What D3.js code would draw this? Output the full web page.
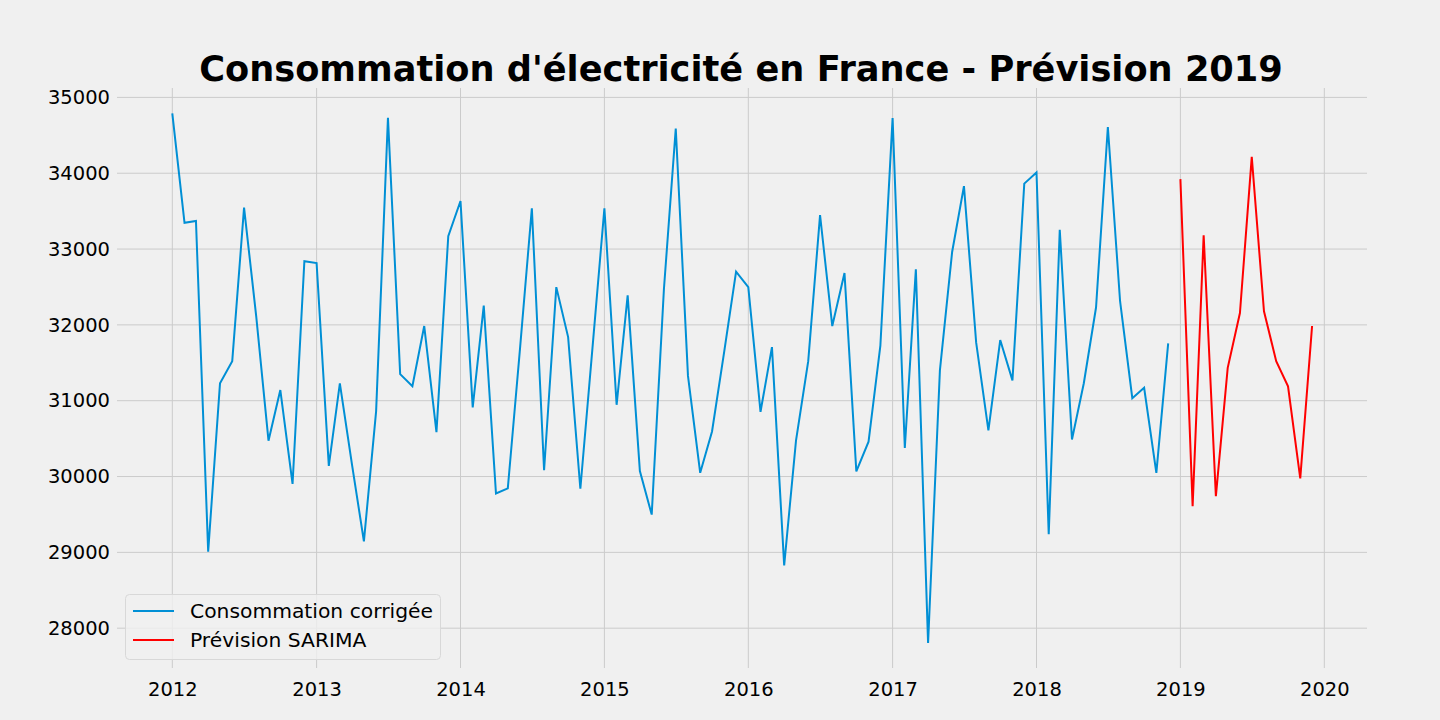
<!DOCTYPE html>
<html>
<head>
<meta charset="utf-8">
<script src="https://cdn.jsdelivr.net/npm/d3@7"></script>
<style>
  body { margin: 0; background: #f0f0f0; }
  text { font-family: "DejaVu Sans", sans-serif; }
</style>
</head>
<body>
<div id="chart"></div>
<script>
// Consommation corrigée, mensuelle 2012-01 .. 2018-12
const consoValues = [
  34790, 33346, 33371, 29010, 31229, 31522, 33546, 32107, 30473, 31141, 29902, 32839,
  32815, 30141, 31229, 30150, 29146, 30863, 34732, 31351, 31190, 31985, 30585, 33171,
  33634, 30912, 32254, 29776, 29844, 31690, 33537, 30083, 32498, 31839, 29839, 31650,
  33537, 30946, 32390, 30073, 29498, 32473, 34590, 31327, 30049, 30595, 31650, 32702,
  32498, 30854, 31707, 28829, 30473, 31522, 33449, 31985, 32683, 30068, 30459, 31727,
  34727, 30376, 32732, 27805, 31400, 32961, 33829, 31766, 30610, 31800, 31268, 33863,
  34010, 29239, 33254, 30488, 31230, 32229, 34610, 32312, 31034, 31171, 30049, 31756
];
// Prévision SARIMA 2019-01 .. 2019-12
const forecastValues = [
  33922, 29610, 33180, 29741, 31434, 32156, 34215, 32180, 31522, 31190, 29976, 31985
];
const consoStart = new Date(2012, 0, 1);
const forecastStart = new Date(2019, 0, 1);
const yearTicks = [2012, 2013, 2014, 2015, 2016, 2017, 2018, 2019, 2020];
const yTicks = [28000, 29000, 30000, 31000, 32000, 33000, 34000, 35000];
const seriesNames = ['Consommation corrigée', 'Prévision SARIMA'];
const seriesColors = ['#008fd5', '#ff0000'];
const title = "Consommation d'électricité en France - Prévision 2019";

const width = 1440, height = 720;
const plotLeft = 117, plotRight = 1367, plotTop = 88, plotBottom = 668;

const monthly = (start, values) => values.map((v, i) =>
  ({ date: new Date(start.getFullYear(), start.getMonth() + i, 1), value: v }));
const conso = monthly(consoStart, consoValues);
const forecast = monthly(forecastStart, forecastValues);

const x = d3.scaleTime()
  .domain([new Date(2012, 0, 1), new Date(2020, 0, 1)])
  .range([172.3, 1324.3]);
const y = d3.scaleLinear()
  .domain([28000, 35000])
  .range([628.2, 97.4]);

const svg = d3.select('#chart').append('svg')
  .attr('width', width).attr('height', height);

svg.append('rect').attr('width', width).attr('height', height).attr('fill', '#f0f0f0');

// grille
const grid = svg.append('g').attr('stroke', '#cbcbcb').attr('stroke-width', 1);
grid.selectAll('.vg').data(yearTicks).enter().append('line')
  .attr('x1', d => x(new Date(d, 0, 1))).attr('x2', d => x(new Date(d, 0, 1)))
  .attr('y1', plotTop).attr('y2', plotBottom);
grid.selectAll('.hg').data(yTicks).enter().append('line')
  .attr('x1', plotLeft).attr('x2', plotRight)
  .attr('y1', d => y(d)).attr('y2', d => y(d));

// axes
const xAxis = svg.append('g')
  .attr('transform', `translate(0, ${plotBottom})`)
  .call(d3.axisBottom(x).tickValues(yearTicks.map(d => new Date(d, 0, 1)))
    .tickFormat(d3.timeFormat('%Y')).tickSize(0).tickPadding(14));
const yAxis = svg.append('g')
  .attr('transform', `translate(${plotLeft}, 0)`)
  .call(d3.axisLeft(y).tickValues(yTicks).tickFormat(d3.format('d'))
    .tickSize(0).tickPadding(7));
[xAxis, yAxis].forEach(a => {
  a.select('.domain').remove();
  a.selectAll('text').attr('font-size', 19.5).attr('fill', '#000')
    .attr('font-family', '"DejaVu Sans", sans-serif');
});

// courbes
const line = d3.line().x(d => x(d.date)).y(d => y(d.value));
svg.append('path').datum(conso)
  .attr('fill', 'none').attr('stroke', seriesColors[0]).attr('stroke-width', 2)
  .attr('d', line);
svg.append('path').datum(forecast)
  .attr('fill', 'none').attr('stroke', seriesColors[1]).attr('stroke-width', 2)
  .attr('d', line);

// titre
svg.append('text')
  .attr('x', 741).attr('y', 81)
  .attr('text-anchor', 'middle')
  .attr('font-size', 35.2).attr('font-weight', 'bold')
  .text(title);

// légende
const legend = svg.append('g');
legend.append('rect')
  .attr('x', 125.5).attr('y', 594.5).attr('width', 315).attr('height', 65)
  .attr('rx', 4)
  .attr('fill', '#f0f0f0').attr('fill-opacity', 0.8)
  .attr('stroke', '#d8d8d8');
seriesNames.forEach((name, i) => {
  const ly = 611 + i * 29;
  legend.append('line')
    .attr('x1', 133).attr('x2', 174).attr('y1', ly).attr('y2', ly)
    .attr('stroke', seriesColors[i]).attr('stroke-width', 2);
  legend.append('text')
    .attr('x', 190).attr('y', ly).attr('dy', '0.35em')
    .attr('font-size', 20.3).attr('fill', '#000')
    .text(name);
});
</script>
</body>
</html>
